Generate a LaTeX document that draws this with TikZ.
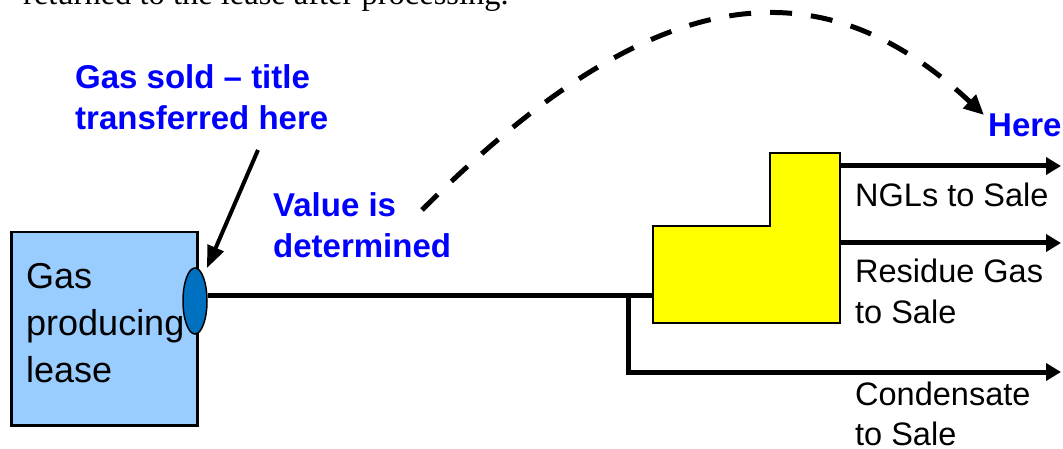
\documentclass[tikz,border=0pt]{standalone}
\usepackage{fontspec}
\setmainfont{Liberation Serif}
\newfontfamily\arialf{Liberation Sans}
\usetikzlibrary{arrows.meta,shapes.geometric}
\definecolor{leaseblue}{HTML}{99CCFF}
\definecolor{valveblue}{HTML}{0070C0}
\definecolor{labelblue}{HTML}{0000FF}
\definecolor{plantyellow}{HTML}{FFFF00}
\begin{document}
\begin{tikzpicture}[x=1pt,y=-1pt,
  pipe/.style={line width=5pt},
  flowarrow/.style={pipe,-{Triangle[length=15pt,width=17pt]}},
  pointer/.style={line width=4pt,-{Triangle[length=22pt,width=17pt]}},
  dasharc/.style={line width=5pt,dash pattern=on 22pt off 19pt,-{Triangle[length=20pt,width=18pt]}},
  bluelabel/.style={anchor=base west,inner sep=0,align=left,text=labelblue,font=\arialf\bfseries\fontsize{33}{41.5}\selectfont},
  blacklabel/.style={anchor=base west,inner sep=0,align=left,font=\arialf\fontsize{32.5}{40}\selectfont}]
\useasboundingbox (0,0) rectangle (1063,449);
% top cut text
\node[anchor=base west,inner sep=0,font=\fontsize{32.5}{38}\selectfont] (note) at (23,5) {returned to the lease after processing.};
% lease
\node[draw,fill=leaseblue,line width=2.5pt,minimum width=186pt,minimum height=193pt,inner sep=0,anchor=north west] (lease) at (10,231) {};
\node[anchor=base west,inner sep=0,align=left,font=\arialf\fontsize{36}{47}\selectfont] (leasetxt) at (26,382) {Gas\\producing\\lease};
\node[ellipse,draw,fill=valveblue,line width=1.5pt,minimum width=24pt,minimum height=66pt,inner sep=0] (valve) at (195,301) {};
% plant
\coordinate (plantin) at (653,295);
\coordinate (tee) at (628,295);
\draw[fill=plantyellow,line width=1.5pt] (653,226) -- (770,226) -- (770,153) -- (840,153) -- (840,323) -- (653,323) -- cycle;
\coordinate (nglstart) at (840,166);
\coordinate (nglend) at (1061,166);
\coordinate (resstart) at (840,243);
\coordinate (resend) at (1061,243);
\coordinate (condend) at (1061,372);
\draw[pipe] (valve.east |- plantin) -- (plantin);
\draw[flowarrow] (nglstart) -- (nglend);
\draw[flowarrow] (resstart) -- (resend);
\draw[flowarrow] (tee) |- (condend);
% labels
\node[blacklabel] (ngltxt) at (855,207) {NGLs to Sale};
\node[blacklabel] (restxt) at (855,323) {Residue Gas\\to Sale};
\node[blacklabel] (condtxt) at (855,445) {Condensate\\to Sale};
\node[bluelabel] (soldtxt) at (75,130) {Gas sold – title\\transferred here};
\node[bluelabel] (valuetxt) at (273,258) {Value is\\determined};
\node[bluelabel] (heretxt) at (988,137) {Here};
% arrows
\coordinate (soldtail) at (258,150);
\coordinate (soldtip) at (207,268);
\draw[pointer] (soldtail) -- (soldtip);
\coordinate (arcstart) at (422,210);
\coordinate (arcend) at (984,115);
\draw[dasharc] (arcstart) .. controls (643,-11) and (812,-46) .. (arcend);
\end{tikzpicture}
\end{document}
